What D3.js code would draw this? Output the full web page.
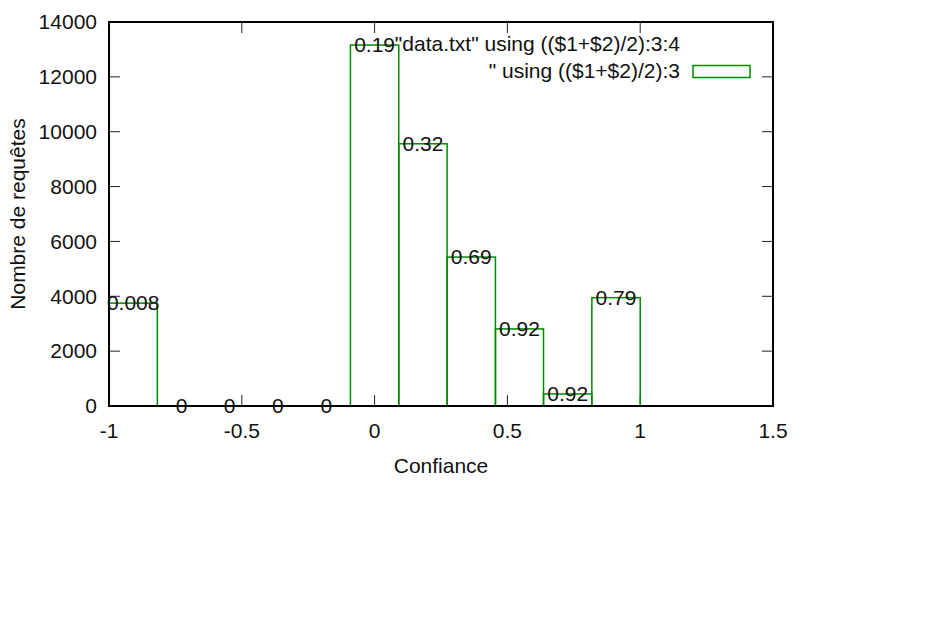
<!DOCTYPE html>
<html><head><meta charset="utf-8">
<script src="https://cdn.jsdelivr.net/npm/d3@7"></script>
<style>
html,body{margin:0;padding:0;background:#fff;}
svg{display:block;}
text{font-family:"Liberation Sans",Arial,sans-serif;}
</style></head>
<body><svg id="c" width="948" height="625"></svg>
<script>
// ---- data ----
const binLow  = [-1.0, -0.818, -0.636, -0.455, -0.273, -0.091, 0.091, 0.273, 0.455, 0.636, 0.818];
const binHigh = [-0.818, -0.636, -0.455, -0.273, -0.091, 0.091, 0.273, 0.455, 0.636, 0.818, 1.0];
const counts  = [3750, 0, 0, 0, 0, 13160, 9560, 5430, 2810, 440, 3950];
const labels  = ["0.008", "0", "0", "0", "0", "0.19", "0.32", "0.69", "0.92", "0.92", "0.79"];
const xTicks  = [-1, -0.5, 0, 0.5, 1, 1.5];
const yTicks  = [0, 2000, 4000, 6000, 8000, 10000, 12000, 14000];
const legendLabels = ['"data.txt" using (($1+$2)/2):3:4', '" using (($1+$2)/2):3'];
const xTitle = "Confiance";
const yTitle = "Nombre de requêtes";

// ---- layout ----
const L = 109, R = 773, T = 22, B = 406;
const green = "#008a00";
const fs = 21;
const svg = d3.select("#c");
const x = d3.scaleLinear().domain([-1, 1.5]).range([L, R]);
const y = d3.scaleLinear().domain([0, 14000]).range([B, T]);
const data = counts.map((c, i) => ({lo: binLow[i], hi: binHigh[i], c, lab: labels[i]}));

// ticks (inward, mirrored)
const tk = 11;
const tg = svg.append("g").attr("stroke", "#222").attr("stroke-width", 1);
xTicks.forEach(v => {
  tg.append("line").attr("x1", x(v)).attr("x2", x(v)).attr("y1", B).attr("y2", B - tk);
  tg.append("line").attr("x1", x(v)).attr("x2", x(v)).attr("y1", T).attr("y2", T + tk);
});
yTicks.forEach(v => {
  tg.append("line").attr("x1", L).attr("x2", L + tk).attr("y1", y(v)).attr("y2", y(v));
  tg.append("line").attr("x1", R).attr("x2", R - tk).attr("y1", y(v)).attr("y2", y(v));
});

// bars (boxes)
svg.append("g").selectAll("rect").data(data).join("rect")
  .attr("x", d => x(d.lo)).attr("width", d => x(d.hi) - x(d.lo))
  .attr("y", d => y(d.c)).attr("height", d => y(0) - y(d.c))
  .attr("fill", "none").attr("stroke", green).attr("stroke-width", 1.5);

// border
svg.append("rect").attr("x", L).attr("y", T).attr("width", R - L).attr("height", B - T)
  .attr("fill", "none").attr("stroke", "#000").attr("stroke-width", 2);

// value labels
svg.append("g").selectAll("text").data(data).join("text")
  .attr("x", d => x((d.lo + d.hi) / 2)).attr("y", d => y(d.c)).attr("dy", "0.35em")
  .attr("text-anchor", "middle").attr("font-size", fs).attr("fill", "#111")
  .text(d => d.lab);

// tick labels
svg.append("g").selectAll("text").data(xTicks).join("text")
  .attr("x", d => x(d)).attr("y", B + 25).attr("dy", "0.35em")
  .attr("text-anchor", "middle").attr("font-size", fs).attr("fill", "#111")
  .text(d => String(d));
svg.append("g").selectAll("text").data(yTicks).join("text")
  .attr("x", L - 12).attr("y", d => y(d)).attr("dy", "0.35em")
  .attr("text-anchor", "end").attr("font-size", fs).attr("fill", "#111")
  .text(d => d);

// axis titles
svg.append("text").attr("x", (L + R) / 2).attr("y", 466).attr("dy", "0.35em")
  .attr("text-anchor", "middle").attr("font-size", fs).attr("fill", "#111").text(xTitle);
svg.append("text").attr("transform", `translate(18,${(T + B) / 2}) rotate(-90)`).attr("dy", "0.35em")
  .attr("text-anchor", "middle").attr("font-size", fs).attr("fill", "#111").text(yTitle);

// legend
const lgx = 680;
svg.append("text").attr("x", lgx).attr("y", 44).attr("dy", "0.35em")
  .attr("text-anchor", "end").attr("font-size", fs).attr("fill", "#111").text(legendLabels[0]);
svg.append("text").attr("x", lgx).attr("y", 71).attr("dy", "0.35em")
  .attr("text-anchor", "end").attr("font-size", fs).attr("fill", "#111").text(legendLabels[1]);
svg.append("rect").attr("x", 693).attr("y", 65.5).attr("width", 57).attr("height", 12)
  .attr("fill", "none").attr("stroke", green).attr("stroke-width", 1.5);
</script></body></html>
